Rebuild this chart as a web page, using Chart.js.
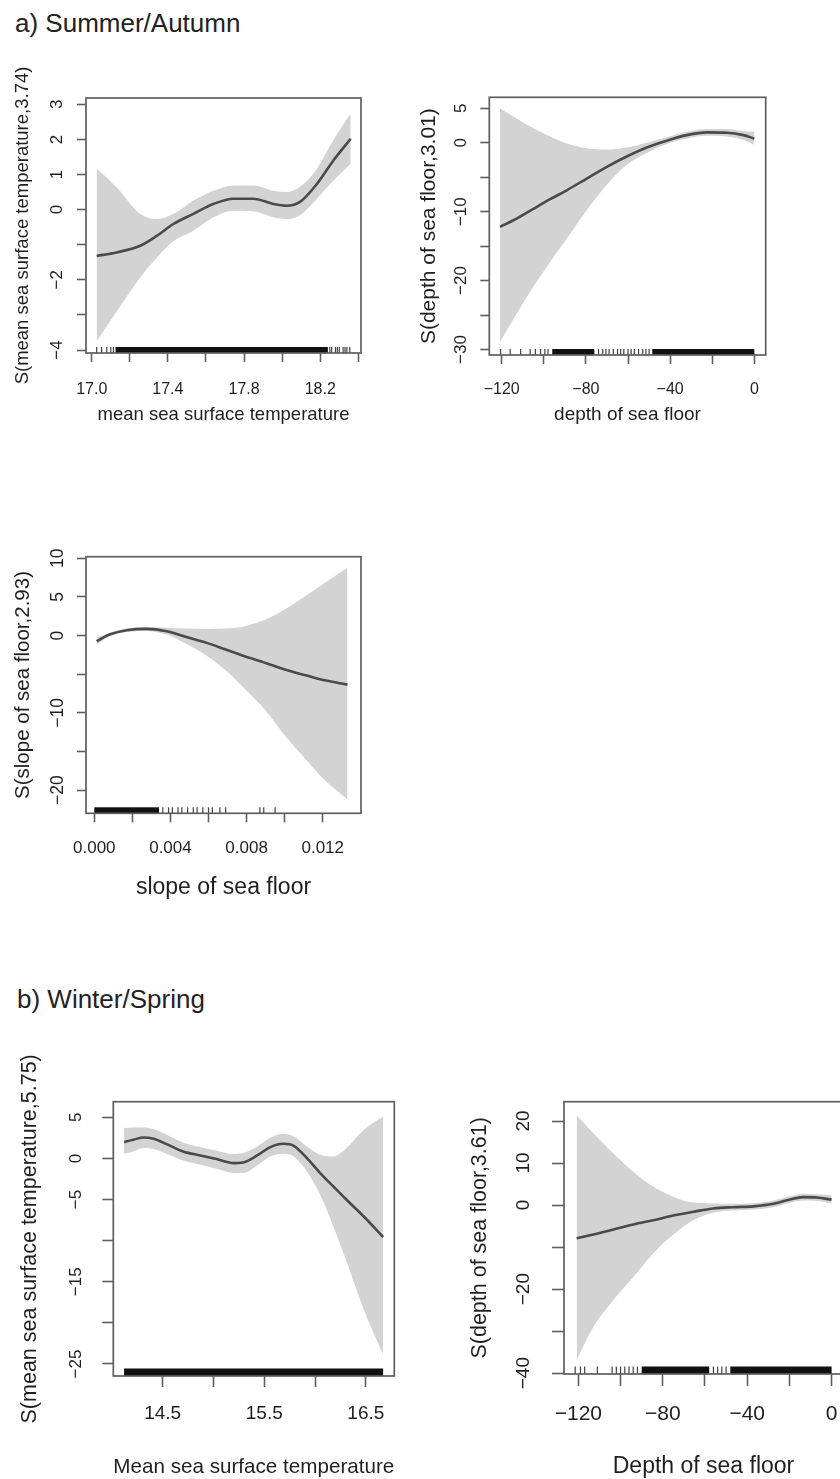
<!DOCTYPE html>
<html><head><meta charset="utf-8">
<script src="https://cdn.jsdelivr.net/npm/chart.js@4.4.0/dist/chart.umd.min.js"></script>
<style>
html,body{margin:0;padding:0;background:#fff;width:840px;height:1479px;overflow:hidden;position:relative;}
canvas{position:absolute;display:block;}
.ptitle{position:absolute;font-family:'Liberation Sans',Arial,sans-serif;font-size:26px;line-height:26px;color:#222;white-space:nowrap;}
</style></head><body>
<div class="ptitle" style="left:15px;top:10px">a) Summer/Autumn</div>
<div class="ptitle" style="left:17px;top:986px">b) Winter/Spring</div>
<canvas id="c1" width="371" height="380" style="left:0px;top:50px"></canvas>
<canvas id="c2" width="380" height="380" style="left:400px;top:50px"></canvas>
<canvas id="c3" width="371" height="395" style="left:0px;top:510px"></canvas>
<canvas id="c4" width="405" height="445" style="left:0px;top:1040px"></canvas>
<canvas id="c5" width="433" height="445" style="left:420px;top:1040px"></canvas>
<script>
// ---------- DATA ----------
// a) Summer/Autumn – mean sea surface temperature
const a1X     = [17.026, 17.131, 17.254, 17.341, 17.429, 17.534, 17.639, 17.744, 17.849, 17.954, 18.024, 18.094, 18.181, 18.269, 18.36];
const a1Fit   = [-1.32, -1.22, -1.03, -0.75, -0.41, -0.12, 0.16, 0.31, 0.31, 0.16, 0.11, 0.22, 0.72, 1.40, 2.02];
const a1Upper = [1.17, 0.64, -0.12, -0.27, -0.12, 0.26, 0.54, 0.69, 0.69, 0.54, 0.50, 0.65, 1.15, 1.98, 2.74];
const a1Lower = [-3.75, -2.90, -1.94, -1.37, -0.90, -0.60, -0.22, -0.03, -0.05, -0.22, -0.27, -0.16, 0.30, 0.83, 1.31];
const a1RugTicks = [17.026, 17.052, 17.079, 17.100, 17.114, 18.25, 18.26, 18.28, 18.29, 18.30, 18.32, 18.33, 18.34, 18.355];
const a1RugBands = [[17.125, 18.24]];
const a1XTicks = [17.0, 17.2, 17.4, 17.6, 17.8, 18.0, 18.2, 18.4];
const a1XLabels = ['17.0', '', '17.4', '', '17.8', '', '18.2', ''];
const a1YTicks = [-4, -3, -2, -1, 0, 1, 2, 3];
const a1YLabels = ['\u22124', '', '\u22122', '', '0', '1', '2', '3'];

// a) Summer/Autumn – depth of sea floor
const a2X     = [-120.8, -112.9, -105.0, -97.0, -89.1, -79.6, -70.1, -60.6, -51.1, -41.6, -32.1, -22.6, -13.1, -5.2, 0];
const a2Fit   = [-12.2, -11.0, -9.6, -8.2, -6.9, -5.2, -3.5, -2.0, -0.7, 0.3, 1.1, 1.5, 1.45, 1.1, 0.6];
const a2Upper = [5.0, 3.5, 2.1, 0.9, -0.1, -0.8, -1.0, -0.7, 0.0, 0.8, 1.6, 2.0, 2.0, 1.7, 1.6];
const a2Lower = [-28.9, -24.8, -20.9, -17.3, -13.9, -9.8, -6.1, -3.2, -1.5, -0.2, 0.6, 1.0, 0.9, 0.4, -0.3];
const a2RugTicks = [-120.5, -116, -111, -106.5, -104, -101.5, -99.5, -98, -74, -72, -70.5, -69, -67, -65, -63.5, -62, -60, -58.5, -57, -55, -53, -51.5, -50];
const a2RugBands = [[-96, -76], [-48.5, 0]];
const a2XTicks = [-120, -100, -80, -60, -40, -20, 0];
const a2XLabels = ['\u2212120', '', '\u221280', '', '\u221240', '', '0'];
const a2YTicks = [-30, -25, -20, -15, -10, -5, 0, 5];
const a2YLabels = ['\u221230', '', '\u221220', '', '\u221210', '', '0', '5'];

// a) Summer/Autumn – slope of sea floor
const a3X     = [0.00012, 0.0008, 0.0017, 0.0027, 0.0038, 0.0048, 0.0059, 0.0069, 0.0079, 0.0090, 0.0100, 0.0111, 0.0121, 0.0133];
const a3Fit   = [-0.73, 0.13, 0.69, 0.86, 0.56, -0.17, -0.95, -1.81, -2.68, -3.54, -4.40, -5.14, -5.79, -6.35];
const a3Upper = [-0.30, 0.35, 0.90, 1.10, 1.00, 0.90, 0.86, 0.90, 1.21, 2.07, 3.37, 5.10, 6.80, 8.77];
const a3Lower = [-1.20, -0.10, 0.47, 0.60, 0.13, -1.04, -2.60, -4.50, -6.90, -9.70, -12.9, -16.0, -18.7, -21.2];
const a3RugTicks = [0.0036, 0.0039, 0.0041, 0.0044, 0.0046, 0.0049, 0.0052, 0.0054, 0.0057, 0.0060, 0.0062, 0.0066, 0.0069, 0.0087, 0.0089, 0.0095];
const a3RugBands = [[0.0, 0.0034]];
const a3XTicks = [0, 0.002, 0.004, 0.006, 0.008, 0.010, 0.012];
const a3XLabels = ['0.000', '', '0.004', '', '0.008', '', '0.012'];
const a3YTicks = [-20, -15, -10, -5, 0, 5, 10];
const a3YLabels = ['\u221220', '', '\u221210', '', '0', '5', '10'];

// b) Winter/Spring – mean sea surface temperature
const b1X     = [14.12, 14.21, 14.31, 14.41, 14.54, 14.70, 14.87, 15.03, 15.20, 15.29, 15.43, 15.56, 15.69, 15.79, 15.92, 16.05, 16.18, 16.31, 16.48, 16.67];
const b1Fit   = [1.99, 2.27, 2.55, 2.39, 1.74, 0.85, 0.36, -0.08, -0.57, -0.49, 0.36, 1.38, 1.78, 1.54, 0.04, -1.78, -3.41, -5.03, -7.06, -9.57];
const b1Upper = [3.69, 3.77, 3.77, 3.57, 2.88, 1.95, 1.38, 0.93, 0.53, 0.65, 1.46, 2.51, 3.00, 2.68, 1.46, 0.45, 0.24, 1.26, 3.49, 5.11];
const b1Lower = [0.57, 0.85, 1.26, 1.14, 0.57, -0.24, -0.77, -1.26, -1.78, -1.78, -0.85, 0.24, 0.57, 0.24, -1.58, -4.42, -8.27, -12.53, -18.41, -23.89];
const b1RugTicks = [];
const b1RugBands = [[14.12, 16.67]];
const b1XTicks = [14.5, 15.0, 15.5, 16.0, 16.5];
const b1XLabels = ['14.5', '', '15.5', '', '16.5'];
const b1YTicks = [-25, -20, -15, -10, -5, 0, 5];
const b1YLabels = ['\u221225', '', '\u221215', '', '\u22125', '0', '5'];

// b) Winter/Spring – depth of sea floor
const b2X     = [-120.8, -112.9, -103.4, -93.9, -84.5, -75.0, -65.5, -56.0, -46.5, -37.0, -27.6, -19.7, -13.4, -7.0, 0];
const b2Fit   = [-7.9, -7.0, -5.8, -4.6, -3.6, -2.5, -1.6, -0.8, -0.5, -0.3, 0.3, 1.35, 1.9, 1.8, 1.3];
const b2Upper = [21.4, 17.1, 12.3, 7.9, 4.4, 2.0, 0.6, 0.4, 0.3, 0.45, 1.1, 2.1, 2.7, 2.6, 2.4];
const b2Lower = [-36.9, -29.0, -22.6, -17.1, -11.5, -7.0, -3.6, -1.8, -1.3, -1.05, -0.5, 0.55, 1.1, 1.0, 0.3];
const b2RugTicks = [-121.5, -119, -117, -111, -104, -102, -100, -98, -96, -94, -92, -56, -54, -52, -50];
const b2RugBands = [[-90, -58], [-48, 0]];
const b2XTicks = [-120, -100, -80, -60, -40, -20, 0];
const b2XLabels = ['\u2212120', '', '\u221280', '', '\u221240', '', '0'];
const b2YTicks = [-40, -30, -20, -10, 0, 10, 20];
const b2YLabels = ['\u221240', '', '\u221220', '', '0', '10', '20'];

// ---------- RENDERING ----------
const FONT = "'Liberation Sans', Arial, Helvetica, sans-serif";
const TXT = '#1f1f1f';
const AX = '#5e5e5e';

function measureMax(labels, size) {
  const ctx = document.createElement('canvas').getContext('2d');
  ctx.font = 'normal ' + size + 'px ' + FONT;
  let m = 0;
  labels.forEach(l => { if (l) m = Math.max(m, ctx.measureText(l).width); });
  return m;
}
function pts(xs, ys) { return xs.map((x, i) => ({x: x, y: ys[i]})); }

function makePanel(id, s) {
  const widest = measureMax(s.yLabels, s.yTickFont);
  const yPad = s.Wy - s.tl - s.yLabelCx - widest / 2;
  const rug = {
    id: 'rug',
    afterDatasetsDraw(chart) {
      const {ctx, chartArea, scales} = chart;
      const xs = scales.x, b = chartArea.bottom, h = s.rugH;
      ctx.save();
      ctx.fillStyle = '#111';
      s.rugBands.forEach(r => {
        const p1 = xs.getPixelForValue(r[0]), p2 = xs.getPixelForValue(r[1]);
        ctx.fillRect(p1, b - h, p2 - p1, h);
      });
      ctx.strokeStyle = 'rgba(17,17,17,0.8)';
      ctx.lineWidth = 1.2;
      s.rugTicks.forEach(v => {
        const p = xs.getPixelForValue(v);
        ctx.beginPath(); ctx.moveTo(p, b); ctx.lineTo(p, b - h); ctx.stroke();
      });
      ctx.restore();
    }
  };
  const box = {
    id: 'box',
    afterDraw(chart) {
      const {ctx, chartArea: a} = chart;
      ctx.save(); ctx.strokeStyle = AX; ctx.lineWidth = 1.7;
      ctx.strokeRect(a.left, a.top, a.right - a.left, a.bottom - a.top);
      ctx.restore();
    }
  };
  const zeroPad = sc => { sc.paddingLeft = 0; sc.paddingRight = 0; sc.paddingTop = 0; sc.paddingBottom = 0; };
  new Chart(document.getElementById(id), {
    type: 'line',
    data: {
      datasets: [
        {data: pts(s.x, s.fit), borderColor: '#4a4a4a', borderWidth: 2.6, pointRadius: 0, fill: false, cubicInterpolationMode: 'monotone'},
        {data: pts(s.x, s.upper), borderColor: 'rgba(0,0,0,0)', borderWidth: 0, backgroundColor: '#d3d3d3', pointRadius: 0, fill: '+1', cubicInterpolationMode: 'monotone'},
        {data: pts(s.x, s.lower), borderColor: 'rgba(0,0,0,0)', borderWidth: 0, pointRadius: 0, fill: false, cubicInterpolationMode: 'monotone'}
      ]
    },
    options: {
      responsive: false, animation: false, events: [],
      layout: {padding: {top: s.pt, right: s.pr, bottom: 0, left: 0}},
      plugins: {legend: {display: false}, tooltip: {enabled: false}},
      scales: {
        x: {
          type: 'linear', min: s.xMin, max: s.xMax, bounds: 'data',
          afterBuildTicks: sc => { sc.ticks = s.xTicks.map(v => ({value: v})); },
          afterFit: sc => { sc.height = s.Hx; zeroPad(sc); },
          border: {display: false},
          grid: {display: true, drawOnChartArea: false, drawTicks: true, tickLength: s.tl, tickColor: AX, tickWidth: 1.6, color: AX},
          ticks: {autoSkip: false, minRotation: 0, maxRotation: 0, padding: s.xPad, color: TXT,
                  font: {family: FONT, size: s.xTickFont}, callback: (v, i) => s.xLabels[i]},
          title: {display: true, text: s.xTitle, color: TXT,
                  font: {family: FONT, size: s.xTitleFont}, padding: {top: 0, bottom: s.xTitlePb}}
        },
        y: {
          type: 'linear', min: s.yMin, max: s.yMax, bounds: 'data',
          afterBuildTicks: sc => { sc.ticks = s.yTicks.map(v => ({value: v})); },
          afterFit: sc => { sc.width = s.Wy; zeroPad(sc); },
          border: {display: false},
          grid: {display: true, drawOnChartArea: false, drawTicks: true, tickLength: s.tl, tickColor: AX, tickWidth: 1.6, color: AX},
          ticks: {autoSkip: false, minRotation: 90, maxRotation: 90, crossAlign: 'center', padding: yPad, color: TXT,
                  font: {family: FONT, size: s.yTickFont}, callback: (v, i) => s.yLabels[i]},
          title: {display: true, text: s.yTitle, color: TXT, font: {family: FONT, size: s.yTitleFont}, padding: {top: s.yTitlePt, bottom: 0}}
        }
      }
    },
    plugins: [rug, box]
  });
}

makePanel('c1', {
  x: a1X, fit: a1Fit, upper: a1Upper, lower: a1Lower, rugTicks: a1RugTicks, rugBands: a1RugBands, rugH: 6,
  xTicks: a1XTicks, xLabels: a1XLabels, yTicks: a1YTicks, yLabels: a1YLabels,
  xMin: 16.97, xMax: 18.414, yMin: -4.085, yMax: 3.18,
  pt: 48, pr: 10, Wy: 86, Hx: 77, tl: 9,
  xTickFont: 16, xPad: 18.4, xTitle: 'mean sea surface temperature', xTitleFont: 18.5, xTitlePb: 3.9,
  yTickFont: 17, yLabelCx: 57, yTitle: 'S(mean sea surface temperature,3.74)', yTitleFont: 18.5, yTitlePt: 11.9
});
makePanel('c2', {
  x: a2X, fit: a2Fit, upper: a2Upper, lower: a2Lower, rugTicks: a2RugTicks, rugBands: a2RugBands, rugH: 6,
  xTicks: a2XTicks, xLabels: a2XLabels, yTicks: a2YTicks, yLabels: a2YLabels,
  xMin: -125.9, xMax: 5.4, yMin: -30.8, yMax: 6.59,
  pt: 47.3, pr: 14.3, Wy: 89.3, Hx: 75, tl: 9,
  xTickFont: 16, xPad: 16.4, xTitle: 'depth of sea floor', xTitleFont: 19, xTitlePb: 3.6,
  yTickFont: 17, yLabelCx: 61, yTitle: 'S(depth of sea floor,3.01)', yTitleFont: 21, yTitlePt: 16.7
});
makePanel('c3', {
  x: a3X, fit: a3Fit, upper: a3Upper, lower: a3Lower, rugTicks: a3RugTicks, rugBands: a3RugBands, rugH: 6,
  xTicks: a3XTicks, xLabels: a3XLabels, yTicks: a3YTicks, yLabels: a3YLabels,
  xMin: -0.000436, xMax: 0.01401, yMin: -23.0, yMax: 10.2,
  pt: 46.7, pr: 10, Wy: 86, Hx: 91.7, tl: 9,
  xTickFont: 17, xPad: 15.5, xTitle: 'slope of sea floor', xTitleFont: 23, xTitlePb: 3.2,
  yTickFont: 17.5, yLabelCx: 58.3, yTitle: 'S(slope of sea floor,2.93)', yTitleFont: 20.5, yTitlePt: 11
});
makePanel('c4', {
  x: b1X, fit: b1Fit, upper: b1Upper, lower: b1Lower, rugTicks: b1RugTicks, rugBands: b1RugBands, rugH: 7.5,
  xTicks: b1XTicks, xLabels: b1XLabels, yTicks: b1YTicks, yLabels: b1YLabels,
  xMin: 14.014, xMax: 16.78, yMin: -26.46, yMax: 6.9,
  pt: 61.7, pr: 10.7, Wy: 113.3, Hx: 109, tl: 11,
  xTickFont: 19, xPad: 15.6, xTitle: 'Mean sea surface temperature', xTitleFont: 21, xTitlePb: 5.4,
  yTickFont: 17, yLabelCx: 76.7, yTitle: 'S(mean sea surface temperature,5.75)', yTitleFont: 21.5, yTitlePt: 17.1
});
makePanel('c5', {
  x: b2X, fit: b2Fit, upper: b2Upper, lower: b2Lower, rugTicks: b2RugTicks, rugBands: b2RugBands, rugH: 7.5,
  xTicks: b2XTicks, xLabels: b2XLabels, yTicks: b2YTicks, yLabels: b2YLabels,
  xMin: -126.8, xMax: 5.4, yMin: -40.2, yMax: 24.6,
  pt: 61.7, pr: 10, Wy: 144, Hx: 111, tl: 12,
  xTickFont: 21, xPad: 15.4, xTitle: 'Depth of sea floor', xTitleFont: 23, xTitlePb: 4.5,
  yTickFont: 19, yLabelCx: 103.3, yTitle: 'S(depth of sea floor,3.61)', yTitleFont: 21.5, yTitlePt: 47.1
});
</script>
</body></html>
